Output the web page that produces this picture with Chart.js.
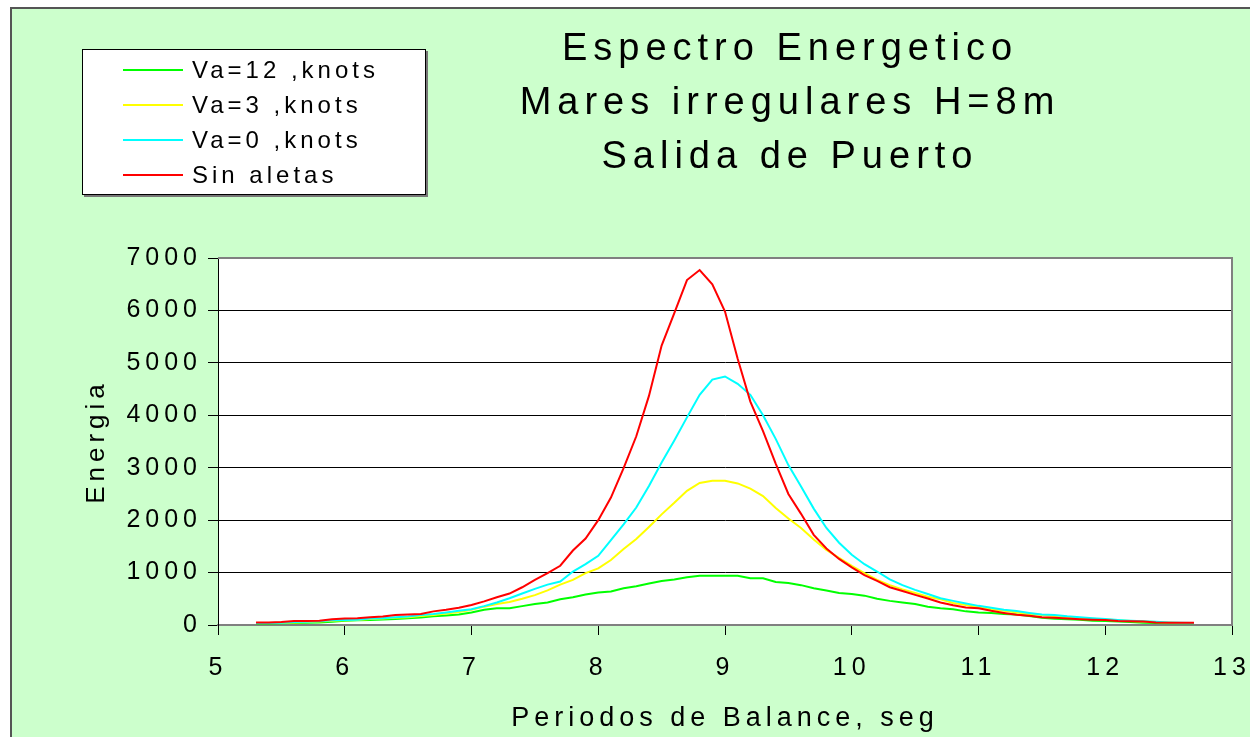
<!DOCTYPE html>
<html lang="es">
<head>
  <meta charset="UTF-8">
  <script src="https://cdn.jsdelivr.net/npm/chart.js"></script>
  <style>
    body {
      margin: 0;
      background: #fff;
      font-family: 'Liberation Sans', Arial, sans-serif;
      color: #000;
    }
    #frame {
      position: absolute;
      left: 10px;
      top: 7px;
      width: 1240px;
      height: 730px;
      background: #ccffcc; /* light green chart background */
      border-left: 2px solid #555;
      border-top: 2px solid #555;
    }
    canvas {
      position: absolute;
      left: 0;
      top: 0;
    }
    #title {
      position: absolute;
      left: 490px;
      top: 20px;
      width: 600px;
      text-align: center;
      font-size: 38px;
      line-height: 54px;
      letter-spacing: 6px;
    }
    #legend {
      position: absolute;
      left: 82px;
      top: 49px;
      width: 344px;
      height: 146px;
      box-sizing: border-box;
      background: #fff;
      border: 1px solid #000;
      box-shadow: 2px 2px 0 #777;
      padding-top: 3px;
    }
    .item {
      display: flex;
      align-items: center;
      height: 34.8px;
      font-size: 24px;
      letter-spacing: 4px;
    }
    .swatch {
      width: 60px;
      height: 2px;
      margin-left: 40px;
      margin-right: 9px;
    }
  </style>
</head>
<body>
  <div id="frame"></div>
  <canvas id="chart" width="1250" height="737"></canvas>
  <div id="title">Espectro Energetico<br>Mares irregulares H=8m<br>Salida de Puerto</div>
  <div id="legend"></div>

  <script>
    // Periodos de balance (seg)
    const periods = [5.3, 5.4, 5.5, 5.6, 5.7, 5.8, 5.9, 6.0, 6.1, 6.2, 6.3, 6.4, 6.5, 6.6, 6.7,
      6.8, 6.9, 7.0, 7.1, 7.2, 7.3, 7.4, 7.5, 7.6, 7.7, 7.8, 7.9, 8.0, 8.1, 8.2,
      8.3, 8.4, 8.5, 8.6, 8.7, 8.8, 8.9, 9.0, 9.1, 9.2, 9.3, 9.4, 9.5, 9.6, 9.7,
      9.8, 9.9, 10.0, 10.1, 10.2, 10.3, 10.4, 10.5, 10.6, 10.7, 10.8, 10.9, 11.0, 11.1, 11.2,
      11.3, 11.4, 11.5, 11.6, 11.7, 11.8, 11.9, 12.0, 12.1, 12.2, 12.3, 12.4, 12.5, 12.6, 12.7];

    const va12 = [30, 30, 35, 40, 45, 50, 60, 80, 90, 95, 105, 115, 130, 145, 165,
      180, 200, 240, 290, 320, 320, 360, 400, 430, 490, 530, 580, 620, 640, 700,
      740, 790, 840, 870, 910, 940, 940, 940, 940, 890, 890, 820, 800, 760, 700,
      660, 610, 590, 560, 500, 460, 430, 400, 350, 320, 300, 260, 240, 230, 210,
      200, 170, 140, 120, 110, 100, 80, 75, 65, 55, 45, 40, 35, 35, 35];

    const va3 = [40, 40, 45, 50, 55, 65, 80, 90, 95, 115, 125, 140, 150, 170, 190,
      220, 250, 290, 350, 400, 440, 500, 570, 660, 770, 860, 990, 1080, 1240, 1450,
      1640, 1870, 2110, 2330, 2560, 2710, 2750, 2750, 2700, 2600, 2460, 2230, 2030, 1850, 1630,
      1430, 1280, 1130, 990, 860, 760, 680, 610, 540, 490, 420, 380, 340, 300, 270,
      240, 210, 190, 170, 150, 135, 120, 105, 90, 75, 65, 55, 45, 40, 40];

    const va0 = [40, 40, 45, 55, 60, 70, 90, 95, 100, 125, 130, 150, 160, 190, 210,
      240, 270, 300, 360, 430, 510, 600, 690, 770, 830, 1020, 1160, 1320, 1620, 1920,
      2240, 2650, 3100, 3520, 3960, 4390, 4680, 4740, 4600, 4390, 4000, 3550, 3050, 2640, 2220,
      1850, 1570, 1340, 1160, 1020, 870, 760, 670, 590, 510, 460, 410, 365, 330, 290,
      265, 230, 200, 190, 165, 150, 130, 115, 95, 80, 70, 60, 50, 45, 40];

    const sinAletas = [50, 50, 55, 75, 75, 80, 110, 125, 130, 150, 160, 190, 200, 210, 260,
      290, 330, 380, 450, 530, 600, 720, 860, 990, 1130, 1420, 1650, 2000, 2430, 2990,
      3600, 4370, 5330, 5950, 6580, 6770, 6500, 5980, 5080, 4260, 3700, 3080, 2500, 2120, 1720,
      1460, 1260, 1100, 950, 840, 720, 650, 575, 505, 430, 375, 335, 318, 270, 230,
      195, 175, 150, 140, 125, 110, 100, 95, 75, 70, 65, 50, 45, 45, 45];

    const seriesLabels = ['Va=12 ,knots', 'Va=3 ,knots', 'Va=0 ,knots', 'Sin aletas'];
    const xTickValues = [5, 6, 7, 8, 9, 10, 11, 12, 13];
    const yTickValues = [0, 1000, 2000, 3000, 4000, 5000, 6000, 7000];

    const seriesValues = [va12, va3, va0, sinAletas];
    const seriesColors = ['#00ff00', '#ffff00', '#00ffff', '#ff0000'];
    const FONT = "'Liberation Sans', Arial, sans-serif";

    const toPoints = vals => periods.map((p, i) => ({ x: p, y: vals[i] }));

    // html legend, same order as the original
    const legendEl = document.getElementById('legend');
    seriesLabels.forEach((label, i) => {
      const row = document.createElement('div');
      row.className = 'item';
      row.innerHTML = '<span class="swatch" style="background:' + seriesColors[i] + '"></span><span>' + label + '</span>';
      legendEl.appendChild(row);
    });

    // white plot area, gray frame, wide letter spacing like the original print
    const plotStyle = {
      id: 'plotStyle',
      beforeUpdate(chart) { chart.ctx.letterSpacing = '5px'; },
      beforeDraw(chart) {
        const { ctx, chartArea: a } = chart;
        ctx.letterSpacing = '5px';
        ctx.save();
        ctx.fillStyle = '#fff';
        ctx.fillRect(a.left, a.top, a.right - a.left, a.bottom - a.top);
        ctx.restore();
      },
      beforeDatasetsDraw(chart) {
        const { ctx, chartArea: a } = chart;
        ctx.save();
        ctx.strokeStyle = '#808080';
        ctx.lineWidth = 2;
        ctx.beginPath();
        ctx.moveTo(a.left, a.top);
        ctx.lineTo(a.right, a.top);
        ctx.lineTo(a.right, a.bottom);
        ctx.stroke();
        ctx.restore();
      }
    };

    new Chart(document.getElementById('chart'), {
      type: 'line',
      data: {
        datasets: seriesLabels.map((label, i) => ({
          label: label,
          data: toPoints(seriesValues[i]),
          borderColor: seriesColors[i],
          borderWidth: 2,
          pointRadius: 0,
          tension: 0,
          fill: false,
          order: 3 - i // red drawn on top
        }))
      },
      options: {
        responsive: false,
        animation: false,
        layout: { padding: { left: 81, top: 258, right: 18, bottom: 0 } },
        plugins: {
          legend: { display: false },
          tooltip: { enabled: false }
        },
        scales: {
          x: {
            type: 'linear',
            min: 5,
            max: 13,
            afterBuildTicks: s => { s.ticks = xTickValues.map(v => ({ value: v })); },
            afterFit: s => { s.height = 112; s.paddingLeft = 0; s.paddingRight = 0; },
            grid: { drawOnChartArea: false, tickLength: 10, color: '#000' },
            border: { color: '#808080', width: 2 },
            ticks: { color: '#000', font: { family: FONT, size: 25 }, padding: 18, maxRotation: 0,
              callback: v => String(v) },
            title: {
              display: true,
              text: 'Periodos de Balance, seg',
              color: '#000',
              font: { family: FONT, size: 27 },
              padding: { top: 0, bottom: 2 }
            }
          },
          y: {
            min: 0,
            max: 7000,
            afterBuildTicks: s => { s.ticks = yTickValues.map(v => ({ value: v })); },
            afterFit: s => { s.width = 218 - 81; s.paddingTop = 0; s.paddingBottom = 0; },
            grid: { color: '#000', tickLength: 10, lineWidth: 1 },
            border: { color: '#000', width: 1 },
            ticks: { color: '#000', font: { family: FONT, size: 25 }, padding: 6,
              callback: v => String(v) },
            title: {
              display: true,
              text: 'Energia',
              color: '#000',
              font: { family: FONT, size: 26 },
              padding: { top: 0, bottom: 0 }
            }
          }
        }
      },
      plugins: [plotStyle]
    });
  </script>
</body>
</html>
